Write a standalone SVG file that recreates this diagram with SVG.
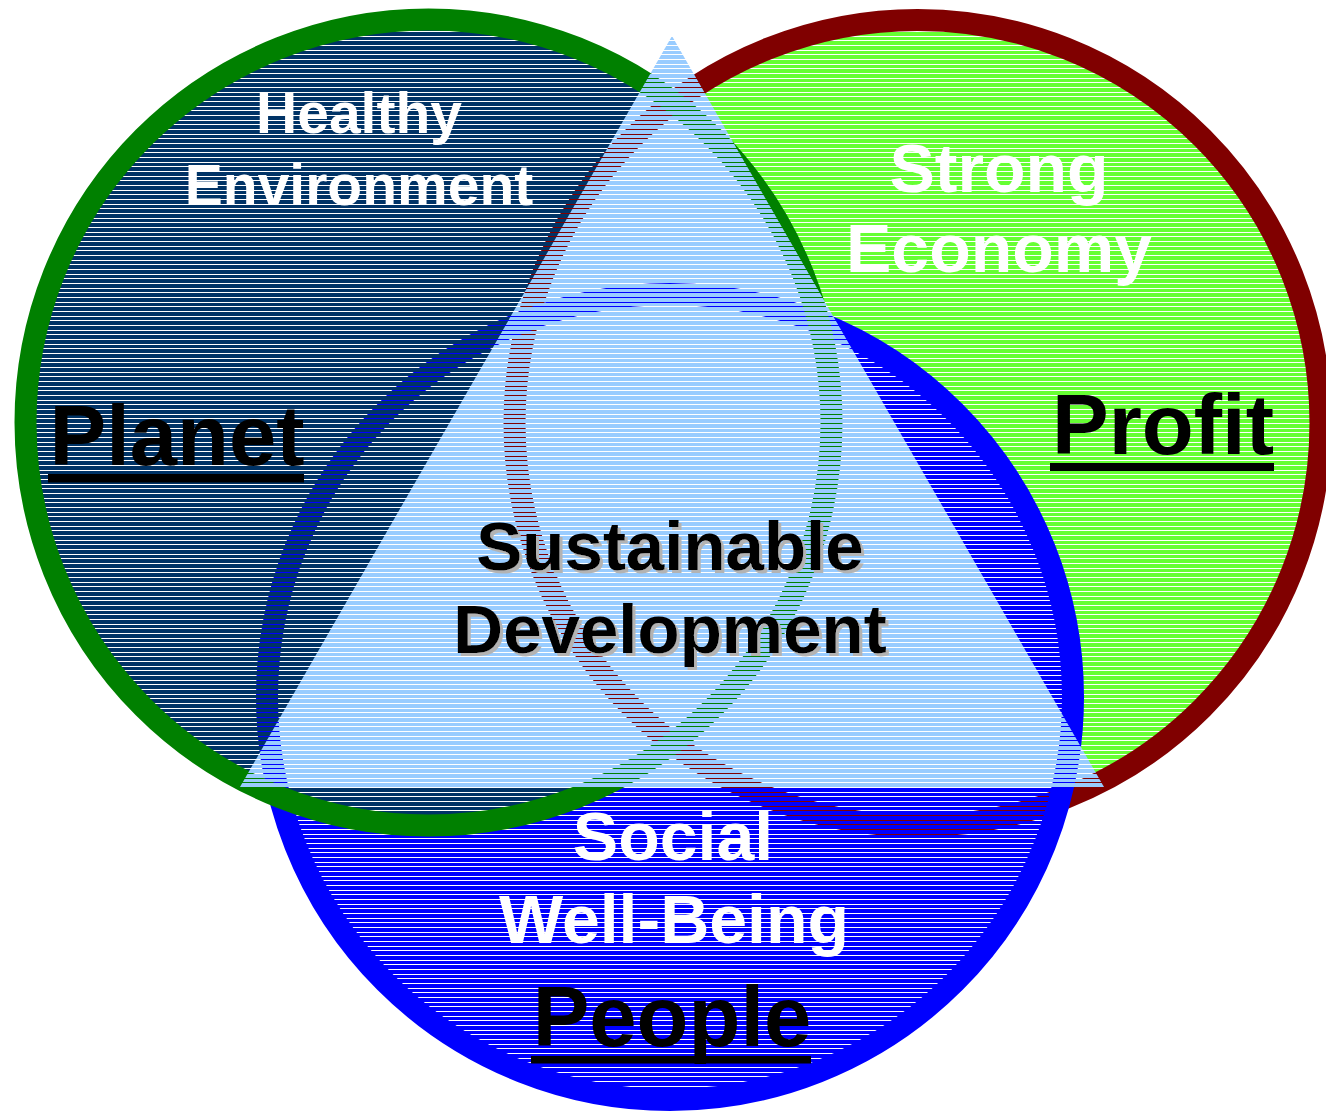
<svg xmlns="http://www.w3.org/2000/svg" width="1326" height="1115" viewBox="0 0 1326 1115">
  <defs>
    <pattern id="pNavy" patternUnits="userSpaceOnUse" x="0" y="-1" width="20" height="14"><rect y="0" width="20" height="4" fill="#003366"/><rect y="5" width="20" height="4" fill="#003366"/><rect y="10" width="20" height="3" fill="#003366"/></pattern>
    <pattern id="pLime" patternUnits="userSpaceOnUse" x="0" y="-1" width="20" height="14"><rect y="0" width="20" height="4" fill="#66ff33"/><rect y="5" width="20" height="4" fill="#66ff33"/><rect y="10" width="20" height="3" fill="#66ff33"/></pattern>
    <pattern id="pBlue" patternUnits="userSpaceOnUse" x="0" y="-1" width="20" height="14"><rect y="0" width="20" height="4" fill="#0000ff"/><rect y="5" width="20" height="4" fill="#0000ff"/><rect y="10" width="20" height="3" fill="#0000ff"/></pattern>
    <pattern id="pSky" patternUnits="userSpaceOnUse" x="0" y="-1" width="20" height="14"><rect y="0" width="20" height="4" fill="#99ccff"/><rect y="5" width="20" height="4" fill="#99ccff"/><rect y="10" width="20" height="3" fill="#99ccff"/></pattern>
    <filter id="shadow" x="-10%" y="-20%" width="120%" height="140%">
      <feDropShadow dx="3" dy="3" stdDeviation="0.3" flood-color="#b3b3b3" flood-opacity="1"/>
    </filter>
  </defs>
  <style>
    text { font-family: "Liberation Sans", Arial, sans-serif; font-weight: bold; text-anchor: middle; }
    .w { fill: #ffffff; font-size: 68px; }
    .he { fill: #ffffff; font-size: 57px; }
    .big { fill: #000000; font-size: 85px; }
    .sd { font-size: 69px; fill: #000000; filter: url(#shadow); }
    .ring { stroke-width: 22; }
  </style>
  <rect width="1326" height="1115" fill="#ffffff"/>

  <g id="profit">
    <circle class="ring" cx="917.5" cy="423" r="403" fill="url(#pLime)" stroke="#800000"/>
    <text class="w" x="999" y="192">Strong</text>
    <text class="w" x="999" y="272">Economy</text>
    <text class="big" x="1163" y="454">Profit</text>
    <rect x="1050" y="463" width="224" height="8" fill="#000000"/>
  </g>

  <g id="people">
    <circle class="ring" cx="670" cy="697" r="403" fill="url(#pBlue)" stroke="#0000ff"/>
    <text class="w" x="673" y="860">Social</text>
    <text class="w" x="674" y="943">Well-Being</text>
    <text class="big" x="672" y="1046">People</text>
    <rect x="531" y="1056" width="280" height="7.5" fill="#000000"/>
  </g>

  <g id="planet">
    <circle class="ring" cx="428.5" cy="422.5" r="403" fill="url(#pNavy)" stroke="#008000"/>
    <text class="he" x="359" y="133">Healthy</text>
    <text class="he" x="359" y="205">Environment</text>
    <text class="big" x="177" y="465">Planet</text>
    <rect x="48" y="474" width="256" height="8.5" fill="#000000"/>
  </g>

  <g id="sustainable-development">
    <polygon points="672,36 240,787 1104,787" fill="url(#pSky)"/>
    <text class="sd" x="670" y="570">Sustainable</text>
    <text class="sd" x="670" y="653">Development</text>
  </g>
</svg>
